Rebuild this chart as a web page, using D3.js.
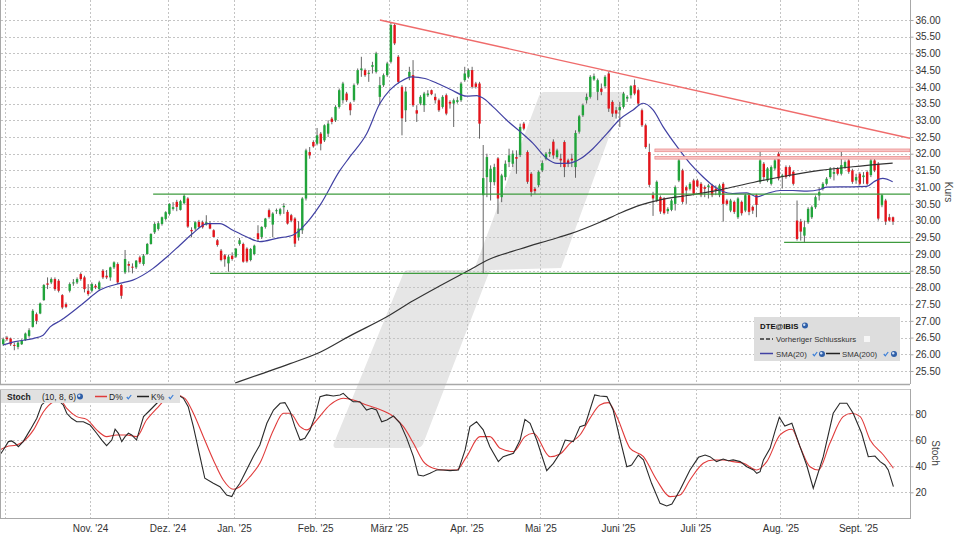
<!DOCTYPE html>
<html>
<head>
<meta charset="utf-8">
<script src="https://cdn.jsdelivr.net/npm/d3@7"></script>
<style>
  body { margin: 0; background: #fff; }
  svg { font-family: "Liberation Sans", Arial, sans-serif; display: block; }
</style>
</head>
<body>
<script>
// trading day index: 0 = 30 Sep 2024, one step per trading day
// month starts (trading day index) and their labels
const monthStart = [24, 45, 63, 85, 105, 126, 146, 167, 188, 211, 232];
const monthLabels = ["Nov. '24", "Dez. '24", "Jan. '25", "Feb. '25", "März '25", "Apr. '25",
  "Mai '25", "Juni '25", "Juli '25", "Aug. '25", "Sept. '25"];
const octStart = 1; // grid line only, label is cut off

const priceTicks = [25.5, 26, 26.5, 27, 27.5, 28, 28.5, 29, 29.5, 30, 30.5, 31, 31.5, 32,
  32.5, 33, 33.5, 34, 34.5, 35, 35.5, 36];
const stochTicks = [20, 40, 60, 80];

// daily candles [open, high, low, close]
const ohlc = [
  [26.30,26.50,26.25,26.45],[26.50,26.55,26.40,26.45],[26.47,26.50,26.25,26.30],[26.28,26.35,26.12,26.25],
  [26.22,26.40,26.15,26.35],[26.30,26.45,26.28,26.42],[26.42,26.65,26.40,26.62],[26.55,26.78,26.50,26.72],
  [26.82,27.35,26.80,27.30],[27.20,27.25,26.90,27.00],[27.22,27.55,27.20,27.52],[27.62,28.10,27.60,28.07],
  [28.12,28.30,27.95,28.08],[28.15,28.30,28.10,28.25],[28.25,28.30,27.90,27.95],[28.20,28.25,27.85,27.90],
  [27.77,27.80,27.35,27.40],[27.50,27.55,27.38,27.42],[27.90,28.15,27.85,28.10],[28.12,28.25,28.05,28.15],
  [28.15,28.30,28.10,28.25],[28.40,28.45,28.20,28.25],[28.30,28.35,27.85,27.95],[27.90,28.10,27.75,27.80],
  [27.90,28.15,27.85,28.10],[28.05,28.10,27.95,28.00],[27.95,28.20,27.90,28.15],[28.50,28.55,28.25,28.30],
  [28.35,28.52,28.25,28.30],[28.30,28.62,28.20,28.60],[28.60,28.78,28.55,28.75],[28.70,28.75,28.10,28.15],
  [28.07,28.10,27.66,27.75],[28.45,29.12,28.40,28.85],[28.70,28.78,28.45,28.65],[28.62,28.72,28.42,28.60],
  [28.60,28.82,28.55,28.80],[28.90,28.95,28.70,28.75],[28.70,29.00,28.65,28.95],[29.00,29.33,28.98,29.30],
  [29.30,29.62,29.28,29.60],[29.65,29.95,29.60,29.90],[29.75,29.98,29.70,29.92],[29.90,30.12,29.85,30.10],
  [30.05,30.28,30.00,30.25],[30.20,30.52,30.15,30.50],[30.35,30.55,30.30,30.40],[30.56,30.62,30.28,30.41],
  [30.32,30.62,30.30,30.58],[30.52,30.79,30.48,30.74],[30.66,30.70,29.78,29.82],[29.72,29.80,29.50,29.68],
  [29.76,29.98,29.70,29.95],[29.96,30.02,29.78,29.81],[29.95,30.00,29.76,29.80],[29.88,30.16,29.85,29.95],
  [29.91,29.98,29.74,29.76],[29.71,29.74,29.50,29.51],[29.41,29.45,29.22,29.27],[29.10,29.15,28.78,28.82],
  [28.96,29.00,28.62,28.84],[28.72,28.98,28.47,28.92],[28.95,29.05,28.80,28.85],[28.92,29.18,28.88,29.16],
  [29.30,29.48,29.25,29.41],[29.30,29.34,28.74,28.77],[29.16,29.20,28.74,28.78],[28.82,29.18,28.78,29.15],
  [29.00,29.28,28.96,29.25],[29.62,29.86,29.36,29.45],[29.51,29.83,29.45,29.81],[29.81,30.08,29.76,30.06],
  [30.31,30.36,30.06,30.11],[29.88,30.25,29.50,30.21],[30.28,30.36,30.20,30.31],[30.20,30.38,30.15,30.34],
  [30.40,30.52,30.20,30.44],[30.26,30.32,29.88,29.91],[30.16,30.20,29.95,30.00],[30.06,30.10,29.21,29.31],
  [29.50,29.98,29.40,29.76],[29.71,30.70,29.60,30.66],[30.66,32.15,30.60,32.10],[32.05,32.20,31.85,31.95],
  [32.35,32.40,32.18,32.22],[32.30,32.77,32.25,32.55],[32.60,32.65,32.10,32.30],[32.40,32.88,32.35,32.85],
  [32.60,33.00,32.50,32.90],[33.05,33.10,32.88,32.95],[33.00,33.45,32.95,33.40],[33.40,33.95,33.35,33.90],
  [33.60,34.15,33.50,34.10],[33.80,33.85,33.55,33.60],[33.50,33.55,33.15,33.30],[33.60,34.10,33.55,34.05],
  [34.10,34.55,34.05,34.50],[34.50,34.90,34.30,34.55],[34.50,34.55,34.30,34.35],[34.40,34.50,34.15,34.42],
  [34.60,34.75,34.40,34.65],[34.45,35.05,34.40,35.00],[33.70,34.30,33.45,34.05],[34.05,34.40,34.00,34.35],
  [34.35,34.75,34.30,34.70],[34.75,35.92,34.70,35.85],[35.85,35.90,35.25,35.30],[34.90,34.95,34.10,34.15],
  [34.00,34.05,32.55,33.06],[33.30,34.00,32.95,33.86],[34.30,34.60,34.20,34.45],[34.35,34.80,33.40,33.45],
  [33.30,33.45,32.95,33.20],[33.50,33.75,33.45,33.70],[33.45,33.85,33.25,33.80],[33.75,33.90,33.70,33.80],
  [33.90,33.92,33.75,33.78],[33.70,33.80,33.50,33.60],[33.60,33.65,33.25,33.30],[33.40,33.75,33.35,33.70],
  [33.75,33.80,33.15,33.20],[33.55,33.60,33.35,33.50],[33.50,33.65,32.80,33.60],[33.55,33.70,33.50,33.60],
  [33.60,34.15,33.55,34.10],[34.20,34.60,34.15,34.40],[34.30,34.55,34.25,34.50],[34.50,34.60,33.95,34.00],
  [34.10,34.15,33.95,34.00],[34.10,34.15,32.45,32.90],[30.76,32.26,28.43,31.27],[31.30,32.00,30.70,31.90],
  [31.15,31.65,30.60,31.55],[31.15,31.70,31.05,31.60],[31.86,31.90,30.20,30.66],[30.70,31.40,30.55,31.35],
  [31.30,31.80,31.20,31.70],[31.75,32.15,31.60,31.95],[31.70,32.10,31.60,32.00],[31.90,32.10,31.40,31.85],
  [31.96,32.90,31.90,32.80],[32.90,32.95,32.70,32.75],[32.05,32.10,31.10,31.16],[31.40,31.45,30.72,30.86],
  [30.95,31.00,30.80,30.88],[31.06,31.50,31.00,31.46],[31.50,31.80,31.45,31.72],[31.85,32.05,31.80,32.00],
  [32.00,32.15,31.90,32.05],[32.36,32.43,31.85,31.95],[31.90,32.15,31.85,32.10],[31.85,32.00,31.60,31.80],
  [32.35,32.40,31.30,31.60],[31.80,31.85,31.60,31.70],[31.85,32.00,31.60,31.80],[31.60,32.70,31.28,32.62],
  [32.66,33.16,32.60,33.12],[33.15,33.50,33.10,33.45],[33.60,33.80,33.50,33.70],[33.70,34.35,33.65,34.30],
  [34.22,34.40,34.18,34.32],[33.85,34.25,33.60,34.20],[33.95,34.10,33.75,33.85],[34.02,34.35,33.95,34.30],
  [34.40,34.46,33.25,33.35],[33.55,33.60,33.10,33.20],[33.30,33.40,33.05,33.20],[33.30,33.55,32.80,33.40],
  [33.40,33.85,33.35,33.80],[33.65,33.75,33.55,33.70],[33.75,34.05,33.65,34.02],[34.05,34.22,33.75,33.80],
  [33.90,33.95,33.45,33.50],[33.30,33.35,32.80,32.85],[32.85,32.90,32.15,32.20],[32.05,32.30,31.00,31.07],
  [30.76,30.86,30.14,30.66],[30.60,31.20,30.55,31.16],[30.70,30.75,30.20,30.27],[30.66,30.70,30.18,30.22],
  [30.28,30.40,30.20,30.35],[30.32,30.65,30.28,30.60],[30.50,31.05,30.30,31.00],[31.20,31.85,31.15,31.80],
  [31.50,31.55,30.50,30.56],[31.00,31.05,30.50,30.90],[30.95,31.15,30.90,31.10],[31.20,31.25,30.75,30.80],
  [31.20,31.25,31.00,31.02],[31.10,31.15,30.70,30.76],[31.00,31.05,30.70,30.95],[31.00,31.10,30.66,31.05],
  [31.05,31.10,30.70,30.76],[30.95,31.05,30.76,30.90],[30.76,31.10,30.70,31.05],[31.10,31.15,29.97,30.50],
  [30.60,30.65,30.45,30.50],[30.30,30.65,30.25,30.60],[30.56,30.60,30.20,30.26],[30.10,30.70,30.05,30.66],
  [30.56,30.60,30.15,30.22],[30.30,30.80,30.25,30.76],[30.76,30.80,30.16,30.26],[30.41,30.45,30.20,30.30],
  [30.76,30.80,30.10,30.47],[31.16,32.06,31.10,31.80],[31.70,31.75,31.20,31.30],[31.20,31.60,31.15,31.56],
  [31.10,31.65,31.05,31.60],[31.56,31.85,31.50,31.80],[32.00,32.05,31.20,31.26],[31.30,31.40,30.96,31.35],
  [31.60,31.65,31.25,31.30],[31.60,31.65,31.30,31.35],[31.46,31.50,31.05,31.10],[30.00,30.60,29.40,29.45],
  [29.97,30.05,29.40,29.67],[29.55,30.00,29.36,29.80],[29.95,30.40,29.90,30.35],[30.10,30.45,30.05,30.40],
  [30.40,30.75,30.35,30.70],[30.75,31.00,30.60,30.85],[30.95,31.15,30.90,31.10],[31.10,31.30,31.05,31.25],
  [31.30,31.60,31.25,31.56],[31.40,31.60,31.20,31.45],[31.56,31.60,31.35,31.40],[31.40,32.06,31.35,31.66],
  [31.60,31.80,31.55,31.75],[31.80,31.85,31.40,31.46],[31.50,31.55,31.10,31.16],[31.20,31.40,31.10,31.30],
  [31.40,31.45,31.05,31.10],[31.30,31.45,31.10,31.35],[31.45,31.50,31.05,31.10],[31.36,31.85,31.30,31.80],
  [31.80,31.85,31.45,31.50],[31.70,31.75,30.00,30.06],[30.46,30.80,30.40,30.76],[30.60,30.65,29.87,29.97],
  [30.10,30.20,29.97,30.00],[30.10,30.12,29.87,29.97]
];

// moving averages [day index, value]
const sma20 = [[0,26.28],[3.2,26.38],[8.1,26.47],[10.8,26.57],[12.7,26.82],[15.4,27.0],[21.6,27.52],
  [26.2,27.92],[31.6,28.12],[35.1,28.22],[40.6,28.57],[44.4,28.92],[47.9,29.27],[51.4,29.62],[55.2,29.91],
  [58.7,29.91],[62.2,29.71],[66.0,29.51],[69.5,29.37],[74.1,29.47],[78.5,29.57],[81.2,29.81],[85.8,30.46],
  [91.2,31.5],[93.9,31.91],[98.5,32.61],[102.0,33.5],[104.7,33.9],[107.5,34.15],[110.7,34.3],[114.2,34.25],
  [117.5,34.11],[121.0,33.93],[125.6,33.72],[128.3,33.74],[129.7,33.68],[132.6,33.41],[136.4,33.0],
  [140.0,32.66],[143.5,32.31],[147.3,31.85],[150.0,31.71],[153.5,31.72],[156.2,31.84],[159.7,32.15],
  [163.5,32.6],[167.0,33.03],[170.6,33.31],[173.3,33.51],[176.0,33.31],[178.7,32.81],[182.5,32.21],
  [186.0,31.71],[189.5,31.31],[192.2,31.05],[194.9,30.87],[197.6,30.81],[201.4,30.83],[204.1,30.71],
  [206.9,30.81],[210.4,30.9],[213.9,30.9],[217.7,30.88],[221.2,30.93],[223.1,31.0],[226.6,31.01],
  [230.1,31.01],[233.9,31.02],[236.1,31.18],[238.2,31.26],[240.9,31.16]];
const sma200 = [[62.8,25.14],[69.5,25.4],[77.7,25.72],[85.8,26.06],[93.9,26.55],[103.9,27.12],[111.0,27.6],
  [118.3,28.05],[125.9,28.5],[131.8,28.85],[140.0,29.15],[148.1,29.42],[153.5,29.6],[161.6,29.95],
  [167.0,30.22],[172.5,30.46],[177.9,30.62],[185.2,30.75],[194.1,30.92],[203.1,31.14],[212.3,31.34],
  [221.2,31.5],[230.1,31.61],[240.9,31.72]];

// drawn lines: [from index, price]
const trendLine = [[102.0, 36.0], [245.6, 32.46]];
const resistance = [[176.5, 32.10], [176.5, 31.88]];
const support = [[40.6, 30.79], [56.0, 28.42], [211.5, 29.35]];

// stochastic (10, 8, 6) [day index, value]
const stochK = [[-0.9,48.7],[0.0,52.5],[1.4,59],[2.3,59.5],[3.2,57.7],[4.1,55.1],[5.4,59],[7.3,68],[9.1,77],
  [10.4,87.2],[11.8,91],[13.6,92.3],[14.9,91],[16.3,87],[17.2,80.8],[18.5,76.9],[19.9,74.3],[21.7,74.3],
  [23.5,71.8],[25.3,65.4],[26.7,60.2],[28.0,55.9],[29.4,60.2],[30.3,68.5],[31.2,65.4],[32.1,59],[33.0,62.8],
  [33.9,65.4],[34.8,64.1],[36.1,60.2],[38.0,78.2],[39.8,83.3],[41.6,88.5],[43.4,93.6],[44.3,96.7],[46.1,95.6],
  [47.4,94.9],[48.8,92.3],[50.1,85.9],[51.5,70.5],[53.3,47.4],[54.6,30.8],[56.9,26.9],[58.7,24.3],[60.5,17.9],
  [61.9,16.7],[62.8,21.8],[64.1,26.9],[65.9,37.2],[67.7,47.4],[69.5,56.4],[71.4,73.1],[73.2,83.3],[75.0,88.5],
  [76.3,89],[77.7,82],[79.0,70.5],[80.4,60.2],[81.7,61.5],[83.1,68],[84.4,78.2],[85.8,93.6],[87.6,94.9],
  [89.4,94.1],[91.2,94.9],[92.1,96.1],[93.5,92.3],[94.8,89.7],[96.6,89.7],[98.4,83.3],[99.8,84.6],[101.1,83.3],
  [102.5,74.3],[103.9,75.6],[105.7,78.7],[107.5,73.1],[109.3,61.5],[111.1,47.4],[112.4,33.3],[113.8,32.6],
  [115.6,34.6],[116.5,35.9],[117.4,37.2],[119.2,37.2],[121.0,36.7],[123.3,37.2],[125.1,52.6],[126.4,70.5],
  [128.2,74.3],[130.0,68],[131.8,55.1],[134.1,43.6],[135.4,47.4],[138.2,50],[140.0,60.2],[141.3,76.1],
  [142.7,73.1],[144.5,60.2],[147.2,36.7],[149.0,42.3],[150.8,50],[152.2,60.2],[154.4,59],[156.2,70.5],
  [157.6,71.8],[160.2,94.9],[161.6,94.1],[163.5,93.6],[165.2,83.3],[167.0,61.5],[168.9,39.7],[170.2,41],
  [172.0,48.7],[173.4,44.9],[175.6,26.9],[177.9,11.5],[179.7,9.5],[181.1,11],[183.3,21.8],[186.0,37.2],
  [188.3,46.9],[190.1,48.7],[191.4,47.4],[193.2,43.6],[195.0,45.6],[196.4,44.3],[197.7,44.9],[199.6,43.6],
  [201.4,39.7],[203.2,37.2],[204.1,34.6],[205.0,35.9],[205.9,44.9],[207.7,53.8],[209.0,66.7],[210.2,77.7],
  [211.7,71],[213.6,73.1],[215.8,55.1],[217.6,41],[219.4,23.1],[222.1,47.4],[224.8,80.8],[226.6,88.5],
  [228.5,88.5],[230.2,80.8],[232.5,65.4],[234.3,47.4],[236.1,47.9],[237.5,43.6],[238.8,41],[239.7,37.2],
  [241.1,24.3]];
const stochD = [[-0.9,52.5],[0.9,55.1],[3.6,56.4],[5.4,59],[8.2,68],[10.9,82],[13.6,89.7],[15.4,91],
  [17.2,84.6],[19.9,78.2],[22.6,76.1],[25.3,68],[28.0,62.8],[30.7,64.1],[33.4,64.1],[36.1,62.8],[38.8,75.6],
  [41.6,84.6],[44.3,92.3],[47.0,94.9],[49.2,92.3],[51.5,80.8],[54.2,62.8],[56.9,44.9],[59.6,29.5],[62.3,22.3],
  [64.1,24.3],[66.8,32],[69.5,42.3],[73.2,68],[75.9,80.8],[77.7,80.8],[80.4,70.5],[82.2,68],[84.9,75.6],
  [88.5,87.2],[92.1,92.3],[94.8,91],[98.4,87.2],[101.1,84.6],[105.7,78.2],[108.4,70.5],[111.1,57.7],
  [113.8,43.6],[116.5,38.5],[119.2,37.2],[122.8,37.2],[125.5,47.4],[129.1,62.8],[131.8,62.8],[134.6,53.8],
  [138.2,51.3],[141.3,62.8],[143.6,65.4],[148.1,47.4],[150.8,49.5],[153.5,57.7],[156.2,64.1],[158.9,76.9],
  [161.6,87.2],[163.9,89],[166.2,78.2],[169.8,53.8],[173.4,47.4],[177.0,29.5],[180.6,16.7],[183.3,17.9],
  [186.0,29.5],[189.6,42.3],[192.3,44.9],[195.0,44.9],[197.7,43.6],[200.5,42.3],[204.1,37.2],[206.8,43.6],
  [210.4,64.1],[213.6,68.5],[215.8,55.1],[218.5,39.7],[220.8,37.2],[223.9,57.7],[227.5,78.2],[229.8,80.8],
  [232.1,78.2],[234.8,60.2],[238.4,48.7],[241.1,38.5]];

const w = 960;
const h = 540;
const left = 1, right = 910;
const mainTop = 0, mainBottom = 384;
const stochTop = 389, stochBottom = 518;
const gridColor = "#c4c4c4";
const frameColor = "#a8a8a8";

const svg = d3.select("body").append("svg").attr("width", w).attr("height", h);

const x = d3.scaleLinear().domain([24, 232]).range([91.85, 859.8]);
const y = d3.scaleLinear().domain([25.5, 36]).range([371, 20]);
const ys = d3.scaleLinear().domain([0, 100]).range([518.3, 388.3]);

const defs = svg.append("defs");
defs.append("clipPath").attr("id", "clipMain").append("rect")
  .attr("x", left).attr("y", mainTop).attr("width", right - left).attr("height", mainBottom - mainTop);
defs.append("clipPath").attr("id", "clipStoch").append("rect")
  .attr("x", left).attr("y", stochTop).attr("width", right - left).attr("height", stochBottom - stochTop);

// watermark logo behind everything
svg.append("path")
  .attr("d", "M544,92 L622,92 Q626,92 624,96 L561,268 L490,270 L423,444 Q421,448 416,448 L337,448 Q332,448 334,443 L404,272 Q405,270 410,270 L474,270 L539,96 Q541,92 544,92 Z")
  .attr("fill", "#e6e6e6");

// grid
const gridMain = svg.append("g").attr("clip-path", "url(#clipMain)");
const gridStoch = svg.append("g").attr("clip-path", "url(#clipStoch)");
const vGrid = [octStart].concat(monthStart).map((d) => d - 0.5);

gridMain.selectAll("line.h").data(priceTicks).enter().append("line")
  .attr("x1", left).attr("x2", right)
  .attr("y1", (d) => Math.round(y(d)) + 0.5).attr("y2", (d) => Math.round(y(d)) + 0.5)
  .attr("stroke", gridColor).attr("stroke-dasharray", "2,2");
gridMain.selectAll("line.v").data(vGrid).enter().append("line")
  .attr("x1", (d) => Math.round(x(d)) + 0.5).attr("x2", (d) => Math.round(x(d)) + 0.5)
  .attr("y1", mainTop).attr("y2", mainBottom)
  .attr("stroke", gridColor).attr("stroke-dasharray", "2,2");
gridStoch.selectAll("line.h").data(stochTicks).enter().append("line")
  .attr("x1", left).attr("x2", right)
  .attr("y1", (d) => Math.round(ys(d)) + 0.5).attr("y2", (d) => Math.round(ys(d)) + 0.5)
  .attr("stroke", gridColor).attr("stroke-dasharray", "2,2");
gridStoch.selectAll("line.v").data(vGrid).enter().append("line")
  .attr("x1", (d) => Math.round(x(d)) + 0.5).attr("x2", (d) => Math.round(x(d)) + 0.5)
  .attr("y1", stochTop).attr("y2", stochBottom)
  .attr("stroke", gridColor).attr("stroke-dasharray", "2,2");

const main = svg.append("g").attr("clip-path", "url(#clipMain)");

// candles
const candles = main.selectAll("g.candle").data(ohlc).enter().append("g");
candles.append("line")
  .attr("x1", (d, i) => x(i)).attr("x2", (d, i) => x(i))
  .attr("y1", (d) => y(d[1])).attr("y2", (d) => y(d[2]))
  .attr("stroke", "#555").attr("stroke-width", 0.9);
candles.append("rect")
  .attr("x", (d, i) => x(i) - 1.2)
  .attr("width", 2.4)
  .attr("y", (d) => y(Math.max(d[0], d[3])))
  .attr("height", (d) => Math.max(1, Math.abs(y(d[0]) - y(d[3]))))
  .attr("fill", (d) => (d[3] >= d[0] ? "#21a43b" : "#e3141b"));

// moving averages
const line = d3.line().x((d) => x(d[0])).y((d) => y(d[1])).curve(d3.curveMonotoneX);
main.append("path").attr("d", line(sma200))
  .attr("fill", "none").attr("stroke", "#333").attr("stroke-width", 1.2);
main.append("path").attr("d", line(sma20))
  .attr("fill", "none").attr("stroke", "#4141a3").attr("stroke-width", 1.2);

// support lines
main.selectAll("line.support").data(support).enter().append("line")
  .attr("x1", (d) => x(d[0])).attr("x2", right)
  .attr("y1", (d) => y(d[1])).attr("y2", (d) => y(d[1]))
  .attr("stroke", "#3e9b3e").attr("stroke-width", 1.2);

// resistance bands
main.selectAll("rect.res").data(resistance).enter().append("rect")
  .attr("x", (d) => x(d[0])).attr("width", (d) => right - x(d[0]))
  .attr("y", (d) => y(d[1]) - 1.4).attr("height", 2.8)
  .attr("fill", "#f7c4c4").attr("stroke", "#e77b7b").attr("stroke-width", 0.6);

// falling trend line
main.append("line")
  .attr("x1", x(trendLine[0][0])).attr("y1", y(trendLine[0][1]))
  .attr("x2", x(trendLine[1][0])).attr("y2", y(trendLine[1][1]))
  .attr("stroke", "#ef6b6b").attr("stroke-width", 1.4);

// stochastic
const stoch = svg.append("g").attr("clip-path", "url(#clipStoch)");
const sline = d3.line().x((d) => x(d[0])).y((d) => ys(d[1]));
stoch.append("path").attr("d", sline.curve(d3.curveMonotoneX)(stochD))
  .attr("fill", "none").attr("stroke", "#e03b3b").attr("stroke-width", 1.1);
stoch.append("path").attr("d", sline.curve(d3.curveLinear)(stochK))
  .attr("fill", "none").attr("stroke", "#2a2a2a").attr("stroke-width", 1.1);

// frames
const frame = svg.append("g").attr("stroke", frameColor).attr("fill", "none");
frame.append("line").attr("x1", right + 0.5).attr("x2", right + 0.5).attr("y1", 0).attr("y2", mainBottom);
frame.append("line").attr("x1", right + 0.5).attr("x2", right + 0.5).attr("y1", stochTop).attr("y2", stochBottom);
frame.append("line").attr("x1", 0.5).attr("x2", 0.5).attr("y1", 0).attr("y2", mainBottom);
frame.append("line").attr("x1", 0.5).attr("x2", 0.5).attr("y1", stochTop).attr("y2", stochBottom);
frame.append("line").attr("x1", 0).attr("x2", right).attr("y1", mainBottom + 0.5).attr("y2", mainBottom + 0.5)
  .attr("stroke-width", 1.5);
frame.append("line").attr("x1", 0).attr("x2", right).attr("y1", stochTop + 0.5).attr("y2", stochTop + 0.5)
  .attr("stroke", "#c8c8c8");
frame.append("line").attr("x1", 0).attr("x2", right + 1).attr("y1", stochBottom + 0.5).attr("y2", stochBottom + 0.5);

// axes
function styleAxis(g) {
  g.select(".domain").remove();
  g.selectAll(".tick line").attr("stroke", frameColor);
  g.selectAll("text").attr("fill", "#333").style("font-size", "10px")
    .style("font-family", '"Liberation Sans", Arial, sans-serif');
}
svg.append("g").attr("transform", "translate(" + (right + 0.5) + ",0)")
  .call(d3.axisRight(y).tickValues(priceTicks).tickFormat(d3.format(".2f")).tickSize(3).tickPadding(2))
  .call(styleAxis);
svg.append("g").attr("transform", "translate(" + (right + 0.5) + ",0)")
  .call(d3.axisRight(ys).tickValues(stochTicks).tickSize(3).tickPadding(2))
  .call(styleAxis);
svg.append("g").attr("transform", "translate(0," + stochBottom + ")")
  .call(d3.axisBottom(x).tickValues(monthStart.map((d) => d - 0.5))
    .tickFormat((d, i) => monthLabels[i]).tickSize(0).tickPadding(7))
  .call(styleAxis);

svg.append("text").attr("transform", "translate(945,192) rotate(90)")
  .attr("text-anchor", "middle").attr("fill", "#444").style("font-size", "10px").text("Kurs");
svg.append("text").attr("transform", "translate(932,453) rotate(90)")
  .attr("text-anchor", "middle").attr("fill", "#444").style("font-size", "10px").text("Stoch");

// little icons
function globe(g, cx, cy) {
  g.append("circle").attr("cx", cx).attr("cy", cy).attr("r", 3).attr("fill", "#2f5fa8");
  g.append("circle").attr("cx", cx - 0.8).attr("cy", cy - 0.8).attr("r", 1.2).attr("fill", "#cfe0f5");
}
function check(g, cx, cy) {
  g.append("path").attr("d", `M${cx - 2.2},${cy} L${cx - 0.7},${cy + 1.8} L${cx + 2.2},${cy - 2}`)
    .attr("fill", "none").attr("stroke", "#3b7fd9").attr("stroke-width", 1.2);
}

// stochastic legend
const sl = svg.append("g").style("font-size", "8.5px");
sl.append("rect").attr("x", 1).attr("y", 390).attr("width", 179).attr("height", 13).attr("fill", "#e1e1e1");
sl.append("text").attr("x", 7).attr("y", 400).style("font-weight", "bold")
  .attr("fill", "#222").text("Stoch");
sl.append("text").attr("x", 42).attr("y", 400).attr("fill", "#222").text("(10, 8, 6)");
globe(sl, 80, 396.5);
sl.append("line").attr("x1", 95).attr("x2", 107).attr("y1", 396.5).attr("y2", 396.5)
  .attr("stroke", "#e03b3b").attr("stroke-width", 1.5);
sl.append("text").attr("x", 109).attr("y", 400).attr("fill", "#222").text("D%");
check(sl, 129, 397);
sl.append("line").attr("x1", 137).attr("x2", 149).attr("y1", 396.5).attr("y2", 396.5)
  .attr("stroke", "#222").attr("stroke-width", 1.5);
sl.append("text").attr("x", 151).attr("y", 400).attr("fill", "#222").text("K%");
check(sl, 171, 397);

// price legend
const pl = svg.append("g").style("font-size", "7.8px");
pl.append("rect").attr("x", 754).attr("y", 317).attr("width", 146).attr("height", 44).attr("fill", "#dddddd");
pl.append("text").attr("x", 760).attr("y", 329).style("font-weight", "bold")
  .attr("fill", "#111").text("DTE@IBIS");
globe(pl, 805, 325.5);
pl.append("line").attr("x1", 760).attr("x2", 773).attr("y1", 339).attr("y2", 339)
  .attr("stroke", "#333").attr("stroke-width", 1.3).attr("stroke-dasharray", "4,2");
pl.append("text").attr("x", 776).attr("y", 342).attr("fill", "#333")
  .text("Vorheriger Schlusskurs");
pl.append("rect").attr("x", 864).attr("y", 336).attr("width", 6).attr("height", 6).attr("fill", "#f6f6f6");
pl.append("line").attr("x1", 760).attr("x2", 773).attr("y1", 353.5).attr("y2", 353.5)
  .attr("stroke", "#4141a3").attr("stroke-width", 1.5);
pl.append("text").attr("x", 776).attr("y", 356.5).attr("fill", "#333").text("SMA(20)");
check(pl, 815, 354);
globe(pl, 822, 354);
pl.append("line").attr("x1", 826).attr("x2", 840).attr("y1", 353.5).attr("y2", 353.5)
  .attr("stroke", "#222").attr("stroke-width", 1.5);
pl.append("text").attr("x", 842).attr("y", 356.5).attr("fill", "#333").text("SMA(200)");
check(pl, 886, 354);
globe(pl, 894, 354);
</script>
</body>
</html>
